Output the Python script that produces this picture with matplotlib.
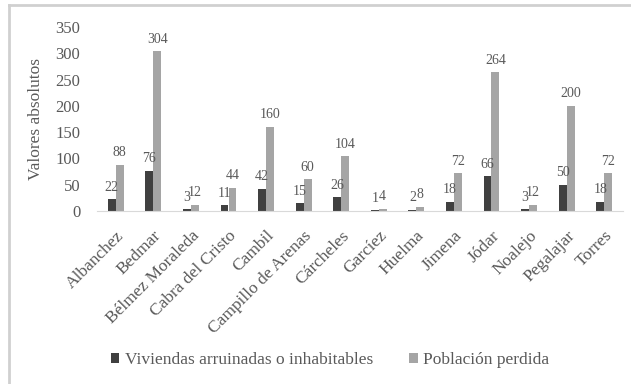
import matplotlib
matplotlib.use("Agg")
import matplotlib.pyplot as plt
from matplotlib.lines import Line2D
import numpy as np

municipios = ["Albanchez", "Bedmar", "Bélmez Moraleda", "Cabra del Cristo",
              "Cambil", "Campillo de Arenas", "Cárcheles", "Garcíez",
              "Huelma", "Jimena", "Jódar", "Noalejo", "Pegalajar", "Torres"]
viviendas = [22, 76, 3, 11, 42, 15, 26, 1, 2, 18, 66, 3, 50, 18]
poblacion = [88, 304, 12, 44, 160, 60, 104, 4, 8, 72, 264, 12, 200, 72]
yticks = [0, 50, 100, 150, 200, 250, 300, 350]

serif = ["Liberation Serif", "DejaVu Serif"]
plt.rcParams["font.family"] = serif
text_color = "#595959"
dark = "#404040"
light = "#a5a5a5"

fig = plt.figure(figsize=(6.31, 3.84), dpi=100)
ax = fig.add_axes([97 / 631, 1 - 211 / 384, 526 / 631, 184 / 384])

x = np.arange(len(municipios))
w = 0.21
b1 = ax.bar(x - w / 2, viviendas, w, color=dark, label="Viviendas arruinadas o inhabitables")
b2 = ax.bar(x + w / 2, poblacion, w, color=light, label="Población perdida")

for bars in (b1, b2):
    for rect in bars:
        h = rect.get_height()
        ax.annotate(f"{int(h)}", (rect.get_x() + rect.get_width() / 2, h),
                    xytext=(0, 4), textcoords="offset points",
                    ha="center", va="bottom", fontsize=10, color=text_color)

ax.set_xlim(-0.5, len(municipios) - 0.5)
ax.set_ylim(0, 350)
ax.set_yticks(yticks)
ax.set_xticks(x)
ax.set_xticklabels(municipios, rotation=45, ha="right", rotation_mode="anchor",
                   fontsize=12.5, color=text_color)
ax.tick_params(axis="y", labelsize=12, labelcolor=text_color, length=0, pad=12)
ax.tick_params(axis="x", length=0, pad=12)
for s in ("top", "right", "left"):
    ax.spines[s].set_visible(False)
ax.spines["bottom"].set_color("#d9d9d9")
ax.set_ylabel("Valores absolutos", fontsize=12.5, color=text_color, labelpad=8)

leg = fig.legend(handles=[b1, b2], loc="center", bbox_to_anchor=(330 / 631, 1 - 360 / 384),
                 ncol=2, frameon=False, prop={"family": serif, "size": 12.5},
                 handlelength=0.5, handleheight=0.5,
                 handletextpad=0.3, columnspacing=2.1, labelcolor=text_color)
for t in leg.get_texts():
    t.set_fontfamily(serif)

# outer frame (top and left edges)
fig.add_artist(Line2D([9 / 631, 1], [1 - 5 / 384, 1 - 5 / 384], color="#d0d0d0", lw=2))
fig.add_artist(Line2D([9 / 631, 9 / 631], [0, 1 - 5 / 384], color="#d0d0d0", lw=2))

fig.savefig("out.png", dpi=100)
